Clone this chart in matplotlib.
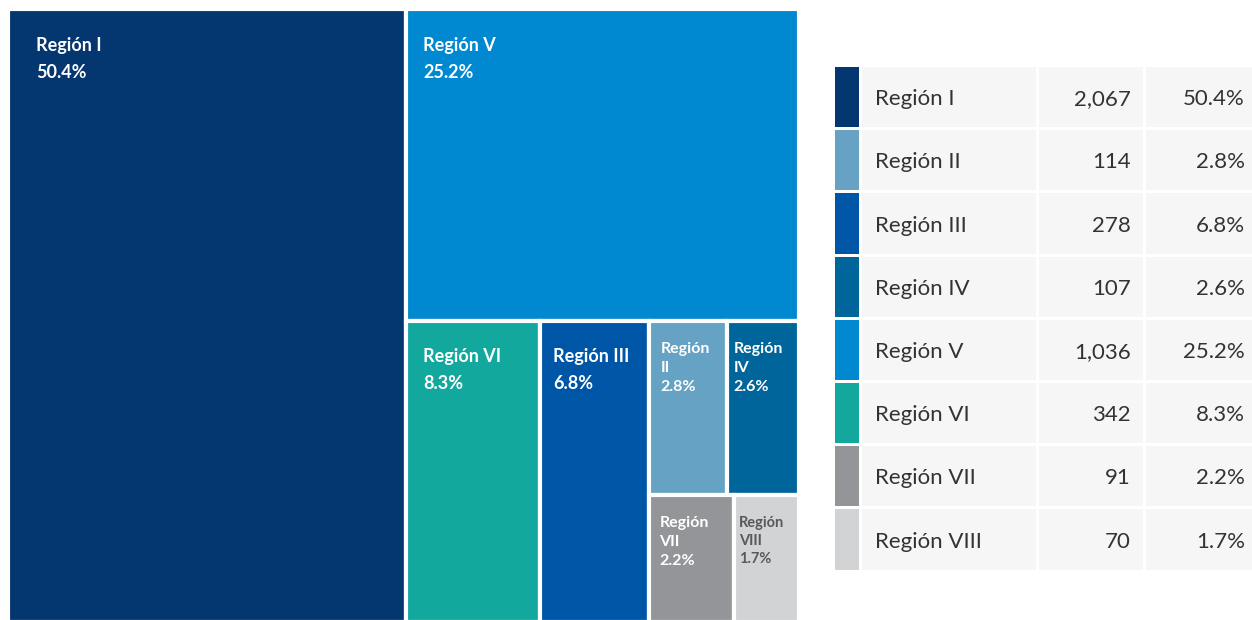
import matplotlib.pyplot as plt
from matplotlib.patches import Rectangle

plt.rcParams['font.family'] = ['Lato', 'DejaVu Sans']

# data
regions = ["Región I", "Región II", "Región III", "Región IV",
           "Región V", "Región VI", "Región VII", "Región VIII"]
counts = [2067, 114, 278, 107, 1036, 342, 91, 70]
colors = ["#04366f", "#65a2c3", "#0056a6", "#00659a",
          "#0089d0", "#13a89e", "#939598", "#d1d3d4"]
text_colors = ["white"] * 7 + ["#58595b"]
label_pad = [28, 11, 13, 7, 17, 17, 10, 5]   # left padding of the labels (px)

total = sum(counts)
pcts = [c / total * 100 for c in counts]
idx = {name: i for i, name in enumerate(regions)}

# nesting of the treemap: ("h", ...) split left->right, ("v", ...) split top->bottom
layout = ("h", "Región I",
          ("v", "Región V",
           ("h", "Región VI", "Región III",
            ("v", ("h", "Región II", "Región IV"),
                  ("h", "Región VII", "Región VIII")))))


def node_value(node):
    if isinstance(node, str):
        return counts[idx[node]]
    return sum(node_value(n) for n in node[1:])


def place(node, x, y, w, h, out):
    if isinstance(node, str):
        out[node] = (x, y, w, h)
        return
    kids = node[1:]
    tot = node_value(node)
    pos = 0
    for k in kids:
        frac = node_value(k) / tot
        if node[0] == "h":
            place(k, x + pos * w, y, w * frac, h, out)
        else:
            place(k, x, y + pos * h, w, h * frac, out)
        pos += frac


rects = {}
place(layout, 8, 9, 791, 613, rects)

fig = plt.figure(figsize=(12.52, 6.2), dpi=100)
ax = fig.add_axes([0, 0, 1, 1])
ax.set_xlim(0, 1252)
ax.set_ylim(620, 0)
ax.axis("off")

for name, (x, y, w, h) in rects.items():
    i = idx[name]
    ax.add_patch(Rectangle((x, y), w, h, facecolor=colors[i],
                           edgecolor="white", linewidth=3))
    if w > 100:
        ax.text(x + label_pad[i], y + 36, name, color=text_colors[i], fontsize=13,
                fontweight="bold", va="center", ha="left")
        ax.text(x + label_pad[i], y + 63, f"{pcts[i]:.1f}%", color=text_colors[i],
                fontsize=13, fontweight="bold", va="center", ha="left")
    else:
        fs = 11.5 if i != 7 else 10.5
        step = 19 if i != 7 else 18
        lines = name.split(" ") + [f"{pcts[i]:.1f}%"]
        for j, line in enumerate(lines):
            ax.text(x + label_pad[i], y + 28 + j * step, line, color=text_colors[i],
                    fontsize=fs, fontweight="bold", va="center", ha="left")

# table legend
top, row_h = 67, 63.2
for i, name in enumerate(regions):
    y0 = top + i * row_h
    hh = row_h - 3
    ax.add_patch(Rectangle((835, y0), 24, hh, facecolor=colors[i], edgecolor="none"))
    for cx, cw in [(862, 174), (1039, 104), (1146, 106)]:
        ax.add_patch(Rectangle((cx, y0), cw, hh, facecolor="#f6f6f6", edgecolor="none"))
    yc = y0 + hh / 2 + 2
    ax.text(875, yc, name, fontsize=16, color="#333333", va="center", ha="left")
    ax.text(1131, yc, f"{counts[i]:,}", fontsize=16, color="#333333", va="center", ha="right")
    ax.text(1245, yc, f"{pcts[i]:.1f}%", fontsize=16, color="#333333", va="center", ha="right")

fig.savefig("out.png", dpi=100)
